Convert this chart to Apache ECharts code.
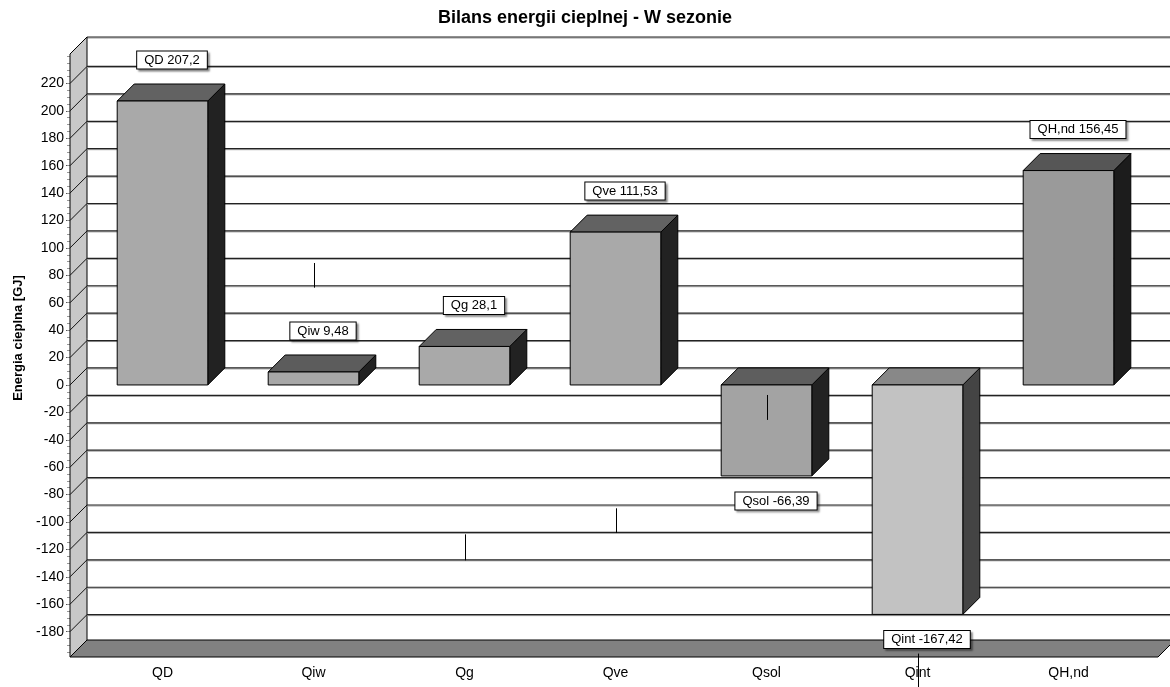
<!DOCTYPE html>
<html>
<head>
<meta charset="utf-8">
<script src="https://cdn.jsdelivr.net/npm/echarts@6/dist/echarts.min.js"></script>
<style>
  html, body { margin: 0; padding: 0; background: #ffffff; }
  #chart { width: 1170px; height: 687px; }
</style>
</head>
<body>
<div id="chart"></div>
<script>
// ---- data ----
const categories = ['QD', 'Qiw', 'Qg', 'Qve', 'Qsol', 'Qint', 'QH,nd'];
const values = [207.2, 9.48, 28.1, 111.53, -66.39, -167.42, 156.45];
const yTickValues = [-180, -160, -140, -120, -100, -80, -60, -40, -20, 0, 20, 40, 60, 80, 100, 120, 140, 160, 180, 200, 220];
// short vertical marker strokes (category, from value, to value)
const markerCategories = ['Qiw', 'Qg', 'Qve', 'Qsol', 'Qint'];
const markerFrom = [71, -128, -108, -25.5, -196];
const markerTo = [89, -109, -90, -7.3, -221];

const yMin = -198.5, yMax = 241.5;
const yMinorTickValues = [];
for (let v = -195; v <= 240; v += 5) yMinorTickValues.push(v);

// ---- styling ----
const DX = 17, DY = -17;          // depth offset of the 3D box
const WALL_IN = 17;               // side wall width left of the first band
const FLOOR_OUT = 14;             // floor overhang right of the last band
const BAR_RATIO = 0.6;
const frontColors = ['#a9a9a9', '#a7a7a7', '#a9a9a9', '#a9a9a9', '#a3a3a3', '#c2c2c2', '#9a9a9a'];
const topColors   = ['#626262', '#5c5c5c', '#626262', '#626262', '#5e5e5e', '#888888', '#565656'];
const sideColors  = ['#222222', '#222222', '#222222', '#222222', '#222222', '#444444', '#1c1c1c'];
const FONT = '"Liberation Sans", Arial, sans-serif';

const fmt = v => String(v).replace('.', ',');

function renderFrame(params, api) {
  const cs = params.coordSys;
  const x0 = cs.x - WALL_IN;
  const bx = x0 + DX;
  const right = cs.x + cs.width + FLOOR_OUT;
  const yTop = cs.y, yBot = cs.y + cs.height;
  const children = [];
  children.push({ type: 'rect', shape: { x: bx, y: yTop + DY, width: right + DX - bx + 40, height: cs.height }, style: { fill: '#ffffff' } });
  children.push({ type: 'line', shape: { x1: bx, y1: yTop + DY + 1, x2: right + DX + 40, y2: yTop + DY + 1 }, style: { stroke: '#999999', lineWidth: 1 } });
  children.push({ type: 'line', shape: { x1: bx, y1: yTop + DY, x2: right + DX + 40, y2: yTop + DY }, style: { stroke: '#222222', lineWidth: 1.2 } });
  // side wall
  children.push({ type: 'polygon', shape: { points: [[x0, yTop], [bx, yTop + DY], [bx, yBot + DY], [x0, yBot]] }, style: { fill: '#c8c8c8', stroke: '#000000', lineWidth: 1 } });
  yTickValues.forEach(v => {
    const y = api.coord([0, v])[1];
    children.push({ type: 'line', shape: { x1: x0, y1: y, x2: bx, y2: y + DY }, style: { stroke: '#111111', lineWidth: 1 } });
    children.push({ type: 'line', shape: { x1: bx, y1: y + DY + 1, x2: right + DX + 40, y2: y + DY + 1 }, style: { stroke: '#a0a0a0', lineWidth: 1 } });
    children.push({ type: 'line', shape: { x1: bx, y1: y + DY, x2: right + DX + 40, y2: y + DY }, style: { stroke: '#222222', lineWidth: 1.2 } });
  });
  // floor
  children.push({ type: 'polygon', shape: { points: [[x0, yBot], [bx, yBot + DY], [right + DX, yBot + DY], [right, yBot]] }, style: { fill: '#818181', stroke: '#000000', lineWidth: 1 } });
  return { type: 'group', children };
}

function renderBar(params, api) {
  const i = api.value(0), v = api.value(1);
  const c0 = api.coord([i, 0]), c1 = api.coord([i, v]);
  const w = api.size([1, 0])[0] * BAR_RATIO;
  const xl = c0[0] - w / 2, xr = c0[0] + w / 2;
  const yt = Math.min(c0[1], c1[1]), yb = Math.max(c0[1], c1[1]);
  const stroke = { stroke: '#000000', lineWidth: 1, lineJoin: 'round' };
  return {
    type: 'group',
    children: [
      { type: 'polygon', shape: { points: [[xr, yt], [xr + DX, yt + DY], [xr + DX, yb + DY], [xr, yb]] }, style: Object.assign({ fill: sideColors[i] }, stroke) },
      { type: 'polygon', shape: { points: [[xl, yt], [xl + DX, yt + DY], [xr + DX, yt + DY], [xr, yt]] }, style: Object.assign({ fill: topColors[i] }, stroke) },
      { type: 'rect', shape: { x: xl, y: yt, width: w, height: yb - yt }, style: Object.assign({ fill: frontColors[i] }, stroke) }
    ]
  };
}

function renderLabel(params, api) {
  const i = api.value(0), v = api.value(1);
  const c0 = api.coord([i, 0]), c1 = api.coord([i, v]);
  const x = c0[0] + DX / 2 + 1;
  const y = v >= 0 ? c1[1] + DY - 24 : c1[1] + 25;
  return {
    type: 'text',
    style: {
      text: categories[i] + ' ' + fmt(v),
      x, y,
      align: 'center', verticalAlign: 'middle',
      font: '13px ' + FONT,
      fill: '#000000',
      backgroundColor: '#ffffff',
      borderColor: '#000000', borderWidth: 1,
      padding: [1, 7, 1, 7],
      lineHeight: 15,
      shadowColor: 'rgba(0,0,0,0.35)', shadowBlur: 2, shadowOffsetX: 2, shadowOffsetY: 2
    }
  };
}

function renderMarker(params, api) {
  const i = api.value(0);
  const a = api.coord([i, api.value(1)]), b = api.coord([i, api.value(2)]);
  return { type: 'line', shape: { x1: a[0] + 1, y1: a[1], x2: b[0] + 1, y2: b[1] }, style: { stroke: '#000000', lineWidth: 1 } };
}

const barData = values.map((v, i) => [i, v]);
const markerData = markerCategories.map((c, k) => [categories.indexOf(c), markerFrom[k], markerTo[k]]);

const chart = echarts.init(document.getElementById('chart'), null, { renderer: 'canvas' });
chart.setOption({
  animation: false,
  backgroundColor: '#ffffff',
  title: {
    text: 'Bilans energii cieplnej - W sezonie',
    left: 'center', top: 4,
    textStyle: { fontFamily: FONT, fontSize: 18, fontWeight: 'bold', color: '#000000' }
  },
  grid: { left: 87, right: 26, top: 54, bottom: 30, containLabel: false },
  xAxis: {
    type: 'category',
    data: categories,
    axisLine: { show: false },
    axisTick: { show: true, alignWithLabel: true, length: 5, lineStyle: { color: '#999999' } },
    axisLabel: { margin: 9, fontFamily: FONT, fontSize: 14, color: '#000000' },
    splitLine: { show: false }
  },
  yAxis: [
    {
      type: 'value', min: yMin, max: yMax, offset: WALL_IN,
      axisLine: { show: false },
      axisTick: { show: true, length: 4, customValues: yTickValues, lineStyle: { color: '#555555' } },
      axisLabel: { margin: 6, customValues: yTickValues, fontFamily: FONT, fontSize: 14, color: '#000000' },
      splitLine: { show: false }
    },
    {
      type: 'value', min: yMin, max: yMax, offset: WALL_IN, position: 'left',
      axisLine: { show: false },
      axisTick: { show: true, length: 3, customValues: yMinorTickValues, lineStyle: { color: '#999999' } },
      axisLabel: { show: false },
      splitLine: { show: false }
    }
  ],
  graphic: [{
    type: 'text', x: 18, y: 338, rotation: Math.PI / 2,
    style: { text: 'Energia cieplna [GJ]', font: 'bold 13px ' + FONT, fill: '#000000', align: 'center', verticalAlign: 'middle' }
  }],
  series: [
    { type: 'custom', z: 1, clip: false, renderItem: renderFrame, data: [[0, 0]], silent: true },
    { type: 'custom', z: 3, clip: false, renderItem: renderBar, data: barData },
    { type: 'custom', z: 8, clip: false, renderItem: renderMarker, data: markerData },
    { type: 'custom', z: 10, clip: false, renderItem: renderLabel, data: barData }
  ]
});
</script>
</body>
</html>
